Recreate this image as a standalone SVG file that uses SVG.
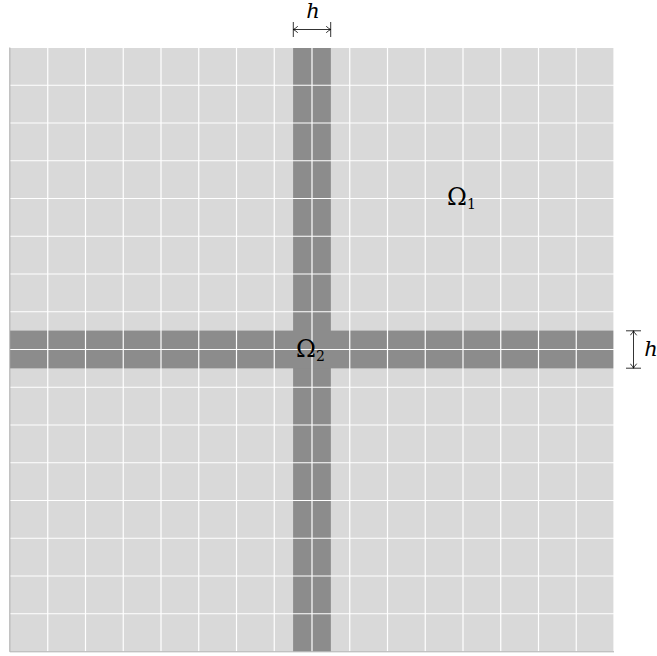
<svg xmlns="http://www.w3.org/2000/svg" width="657" height="656" viewBox="0 0 657 656">
<defs>
<style>
.cell{fill:#d9d9d9}
.band{fill:#8c8c8c}
.grid line{stroke:#ffffff;stroke-width:1.2}
.dim{stroke:#000;stroke-width:0.8;fill:none}
.lbl{font-family:"DejaVu Serif","Liberation Serif",serif;font-style:italic;font-size:21px;fill:#000}
.om{font-family:"DejaVu Serif","Liberation Serif",serif;font-size:24px;fill:#000}
.sub{font-size:14px}
</style>
<marker id="ah" viewBox="-6 -4 7 8" markerWidth="7" markerHeight="8" refX="0" refY="0" orient="auto-start-reverse" markerUnits="userSpaceOnUse">
<path d="M -4.5 -3.2 Q -1.5 -0.6 0 0 Q -1.5 0.6 -4.5 3.2" stroke="#000" stroke-width="0.8" fill="none"/>
</marker>
</defs>
<g id="domain">
<rect class="cell" x="10" y="47.5" width="604" height="604"/>
<rect class="band" x="293.1" y="47.5" width="37.75" height="604"/>
<rect class="band" x="10" y="330.6" width="604" height="37.75"/>
<g class="grid">
<line x1="10" y1="47.5" x2="614" y2="47.5"/>
<line x1="10" y1="85.25" x2="614" y2="85.25"/>
<line x1="10" y1="123" x2="614" y2="123"/>
<line x1="10" y1="160.75" x2="614" y2="160.75"/>
<line x1="10" y1="198.5" x2="614" y2="198.5"/>
<line x1="10" y1="236.25" x2="614" y2="236.25"/>
<line x1="10" y1="274" x2="614" y2="274"/>
<line x1="10" y1="311.75" x2="614" y2="311.75"/>
<line x1="10" y1="349.5" x2="614" y2="349.5"/>
<line x1="10" y1="387.25" x2="614" y2="387.25"/>
<line x1="10" y1="425" x2="614" y2="425"/>
<line x1="10" y1="462.75" x2="614" y2="462.75"/>
<line x1="10" y1="500.5" x2="614" y2="500.5"/>
<line x1="10" y1="538.25" x2="614" y2="538.25"/>
<line x1="10" y1="576" x2="614" y2="576"/>
<line x1="10" y1="613.75" x2="614" y2="613.75"/>
<line x1="47.75" y1="47.5" x2="47.75" y2="651.5"/>
<line x1="85.5" y1="47.5" x2="85.5" y2="651.5"/>
<line x1="123.25" y1="47.5" x2="123.25" y2="651.5"/>
<line x1="161" y1="47.5" x2="161" y2="651.5"/>
<line x1="198.75" y1="47.5" x2="198.75" y2="651.5"/>
<line x1="236.5" y1="47.5" x2="236.5" y2="651.5"/>
<line x1="274.25" y1="47.5" x2="274.25" y2="651.5"/>
<line x1="312" y1="47.5" x2="312" y2="651.5"/>
<line x1="349.75" y1="47.5" x2="349.75" y2="651.5"/>
<line x1="387.5" y1="47.5" x2="387.5" y2="651.5"/>
<line x1="425.25" y1="47.5" x2="425.25" y2="651.5"/>
<line x1="463" y1="47.5" x2="463" y2="651.5"/>
<line x1="500.75" y1="47.5" x2="500.75" y2="651.5"/>
<line x1="538.5" y1="47.5" x2="538.5" y2="651.5"/>
<line x1="576.25" y1="47.5" x2="576.25" y2="651.5"/>
<line x1="614" y1="47.5" x2="614" y2="651.5"/>
</g>
<line x1="9.8" y1="47.5" x2="9.8" y2="651.8" stroke="#a8a8a8" stroke-width="1"/>
<line x1="9.8" y1="651.8" x2="614" y2="651.8" stroke="#b0b0b0" stroke-width="1"/>
</g>
<g id="omega1">
<text class="om" x="447" y="205">Ω<tspan class="sub" dy="4">1</tspan></text>
</g>
<g id="omega2">
<text class="om" x="296" y="356.5">Ω<tspan class="sub" dy="4">2</tspan></text>
</g>
<g id="connectors">
<g id="dim-top">
<line class="dim" x1="293.3" y1="22" x2="293.3" y2="37"/>
<line class="dim" x1="330.7" y1="22" x2="330.7" y2="37"/>
<line class="dim" x1="293.3" y1="29.5" x2="330.7" y2="29.5" marker-start="url(#ah)" marker-end="url(#ah)"/>
</g>
<g id="dim-right">
<line class="dim" x1="626" y1="330.8" x2="641" y2="330.8"/>
<line class="dim" x1="626" y1="368.2" x2="641" y2="368.2"/>
<line class="dim" x1="633.5" y1="330.8" x2="633.5" y2="368.2" marker-start="url(#ah)" marker-end="url(#ah)"/>
</g>
</g>
<g id="labels">
<text class="lbl" x="313" y="18" text-anchor="middle">h</text>
<text class="lbl" x="651" y="355.5" text-anchor="middle">h</text>
</g>
</svg>
